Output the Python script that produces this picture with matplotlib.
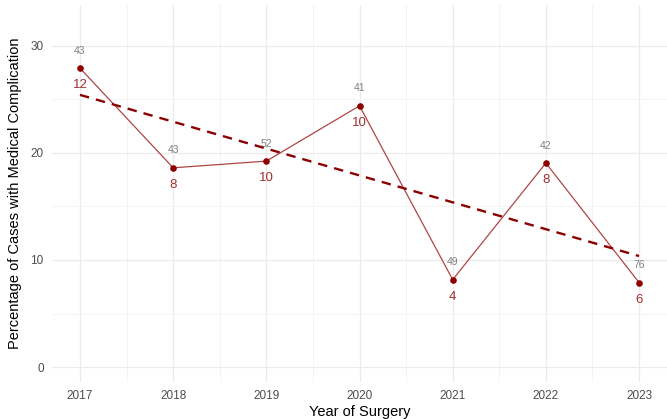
import numpy as np
import matplotlib
matplotlib.use("Agg")
import matplotlib.pyplot as plt
from matplotlib.ticker import MultipleLocator

plt.rcParams['font.family'] = ['Liberation Sans', 'DejaVu Sans']

# yearly counts
years = [2017, 2018, 2019, 2020, 2021, 2022, 2023]
total_cases = [43, 43, 52, 41, 49, 42, 76]
complications = [12, 8, 10, 10, 4, 8, 6]

yrs = np.array(years)
pct = 100 * np.array(complications) / np.array(total_cases)

# linear trend over the years
slope, intercept = np.polyfit(yrs, pct, 1)
trend = slope * yrs + intercept

fig = plt.figure(figsize=(6.67, 4.19), dpi=100)
ax = fig.add_axes([0.078, 0.088, 0.922, 0.9])

ax.plot(yrs, pct, color="#b04545", lw=0.9, zorder=3)
ax.plot(yrs, trend, color="#8b0000", lw=1.7, ls=(0, (4, 3)), zorder=4)
ax.scatter(yrs, pct, color="#8b0000", s=14, zorder=5)

for x, y, n, c in zip(yrs, pct, total_cases, complications):
    ax.annotate(str(n), (x, y), xytext=(0, 9), textcoords="offset points",
                ha="center", va="bottom", fontsize=7.5, color="#808080")
    ax.annotate(str(c), (x, y), xytext=(0, -8), textcoords="offset points",
                ha="center", va="top", fontsize=9.5, color="#a03030")

ax.set_xlim(2016.7, 2023.3)
ax.set_ylim(-1.4, 33.8)
ax.xaxis.set_major_locator(MultipleLocator(1))
ax.xaxis.set_minor_locator(MultipleLocator(0.5))
ax.yaxis.set_major_locator(MultipleLocator(10))
ax.yaxis.set_minor_locator(MultipleLocator(5))

ax.grid(which="major", color="#ebebeb", lw=0.9)
ax.grid(which="minor", color="#f3f3f3", lw=0.6)
ax.set_axisbelow(True)
for s in ax.spines.values():
    s.set_visible(False)
ax.tick_params(which="both", length=0)
ax.tick_params(labelsize=8.5, labelcolor="#4d4d4d", pad=6)

ax.set_xlabel("Year of Surgery", fontsize=10.5, labelpad=2)
ax.set_ylabel("Percentage of Cases with Medical Complication", fontsize=10.5, labelpad=6)

fig.savefig("out.png", dpi=100)
